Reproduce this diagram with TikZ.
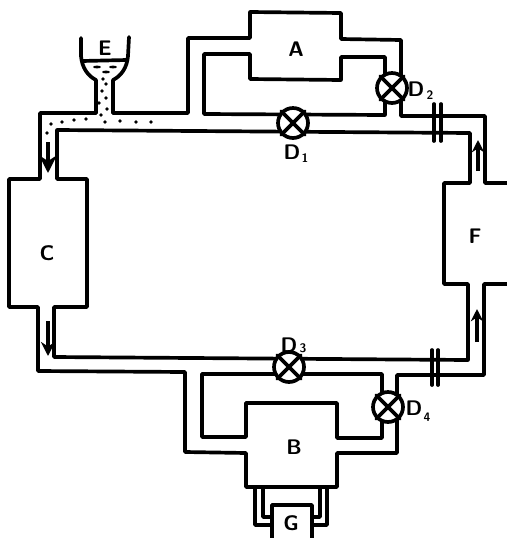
\documentclass[tikz,border=0pt]{standalone}
\usepackage{amsmath}
\usetikzlibrary{arrows.meta}
\tikzset{
  pipe/.style={line width=2.1pt, line join=round, line cap=round},
  flowarrow/.style={line width=1.8pt, -{Stealth[length=#1, width=#1]}},
  valve/.style={circle, draw, fill=white, line width=2.1pt, minimum size=0.6cm, inner sep=0pt},
  tag/.style={font=\sffamily\bfseries\large, inner sep=0pt},
  subtag/.style={font=\sffamily\bfseries\scriptsize, inner sep=0pt}
}

\begin{document}
\begin{tikzpicture}[x=0.02cm, y=-0.02cm]
         \useasboundingbox (0,0) rectangle (507,538);

         % Funnel
         \draw[pipe] (81,38) -- (81,56) .. controls (82,68) and (88,76) .. (96,80) -- (96,113);
         \draw[pipe] (129,37) -- (128,56) .. controls (127,68) and (121,76) .. (113,80) -- (113,113);
         \draw[pipe] (82,61) -- (127,60);

         % Main loop
         \draw[pipe] (57,130) -- (470,133) -- (470,183) -- (444,183) -- (444,284) -- (468,284) -- (468,360)
                     -- (54,357) -- (54,307) -- (87,307) -- (87,179) -- (57,179) -- cycle;

         % Outer wall, left and bottom
         \draw[pipe] (96,113) -- (40,113) -- (40,179) -- (9,179) -- (9,307) -- (38,307) -- (38,371)
                     -- (185,372) -- (185,452) -- (246,453) -- (246,487) -- (337,487) -- (337,453)
                     -- (397,453) -- (397,375) -- (484,375) -- (484,284) -- (507,284);

         % Outer wall, top
         \draw[pipe] (113,113) -- (188,113) -- (188,38) -- (250,38) -- (250,12) -- (341,13) -- (341,39)
                     -- (401,40) -- (401,116) -- (485,116) -- (485,183) -- (507,183);

         % Branches at A and B
         \draw[pipe] (385,115) -- (204,114) -- (204,54) -- (250,54) -- (250,79) -- (341,80) -- (341,57)
                     -- (385,57) -- cycle;
         \draw[pipe] (382,374) -- (202,374) -- (202,437) -- (246,437) -- (246,403) -- (337,403) -- (337,438)
                     -- (382,438) -- cycle;

         % G and its tubes
         \draw[pipe] (272,538) -- (272,505) -- (312,505) -- (312,538);
         \draw[pipe] (255,488) -- (255,525) -- (272,525);
         \draw[pipe] (263,488) -- (263,517) -- (272,517);
         \draw[pipe] (327,488) -- (327,525) -- (312,525);
         \draw[pipe] (320,488) -- (320,517) -- (312,517);

         % Double bars
         \draw[pipe] (434,104) -- (434,141);
         \draw[pipe] (441,104) -- (441,141);
         \draw[pipe] (432,350) -- (432,385);
         \draw[pipe] (438,350) -- (438,385);

         % Valves
         \foreach \name/\px/\py in {D1/293/123, D2/392/88, D3/289/367, D4/388/407} {
            \node[valve] (\name) at (\px,\py) {};
            \draw[pipe] (\name.north west) -- (\name.south east);
            \draw[pipe] (\name.north east) -- (\name.south west);
         }

         % Liquid
         \foreach \px/\py in {103/79, 106/84, 102/91, 106/98, 99/103, 107/109, 101/115, 105/122,
                              120/121, 136/122, 151/122, 86/119, 74/120, 62/122, 51/124, 47/133} {
            \fill (\px,\py) circle (1.9);
         }
         \foreach \px/\py in {97/67, 113/67, 106/72} {
            \fill (\px,\py) ellipse (4 and 1.4);
         }

         % Flow arrows
         \draw[flowarrow=10pt] (48,142) -- (48,173);
         \draw[flowarrow=8pt] (48,321) -- (48,356);
         \draw[flowarrow=7pt] (478,171) -- (478,140);
         \draw[flowarrow=7pt] (477,342) -- (477,309);

         % Labels
         \node[tag] (labelE) at (105,48) {E};
         \node[tag] (labelA) at (296,49) {A};
         \node[tag] (labelC) at (47,253) {C};
         \node[tag] (labelF) at (475,236) {F};
         \node[tag] (labelB) at (294,447) {B};
         \node[tag] (labelG) at (291,523) {G};
         \node[tag] (labelDa) at (292,152) {D};
         \node[subtag] (subDa) at (305,158) {1};
         \node[tag] (labelDb) at (416,89) {D};
         \node[subtag] (subDb) at (430,95) {2};
         \node[tag] (labelDc) at (289,345) {D};
         \node[subtag] (subDc) at (303,348) {3};
         \node[tag] (labelDd) at (414,408) {D};
         \node[subtag] (subDd) at (427,417) {4};
\end{tikzpicture}
\end{document}
